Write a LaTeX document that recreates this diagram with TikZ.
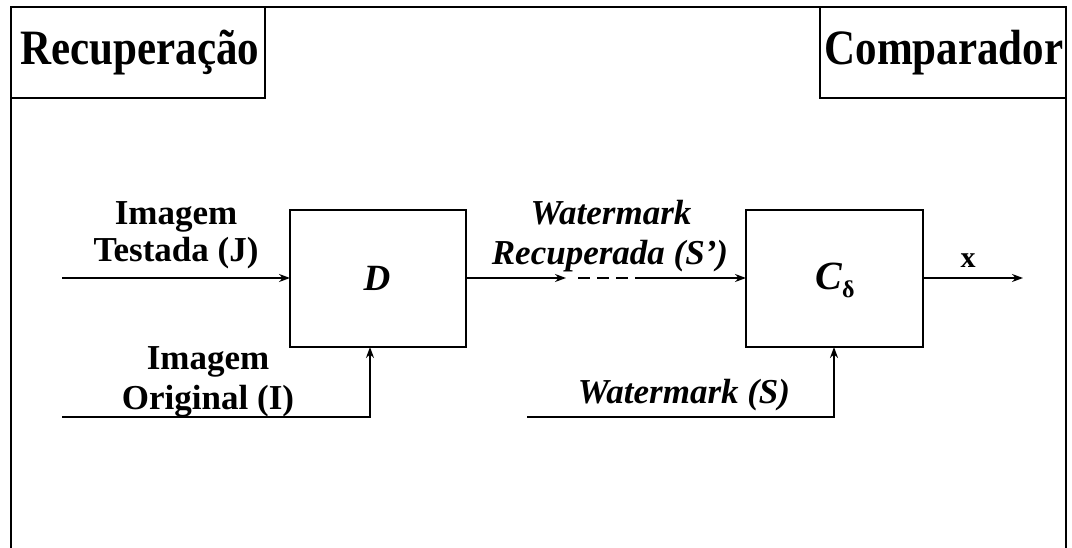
\documentclass[tikz,border=0pt]{standalone}
\usepackage{fontspec}
\setmainfont{Liberation Serif}
\usetikzlibrary{arrows.meta}
\begin{document}
\begin{tikzpicture}[x=1pt,y=-1pt,line width=2.8pt,
  lbl/.style={font=\fontsize{35}{38}\selectfont\bfseries,inner sep=0pt,anchor=base},
  ilbl/.style={font=\fontsize{35}{38}\selectfont\bfseries\itshape,inner sep=0pt,anchor=base},
  head/.style={font=\fontsize{43}{46}\selectfont\bfseries,inner sep=0pt,anchor=base},
  block/.style={draw,rectangle,minimum width=176pt,minimum height=137pt,inner sep=0pt,outer sep=0pt},
  hbox/.style={draw,rectangle,minimum height=91pt,inner sep=0pt,outer sep=0pt},
  sig/.style={-{Stealth[length=11pt,width=8pt]}}]
\useasboundingbox (0,0) rectangle (1072,548);
% outer frame
\draw (11,548) -- (11,7) -- (1066,7) -- (1066,548);
% header boxes
\node[hbox,minimum width=254pt] (recbox) at (138,52.5) {};
\node[hbox,minimum width=246pt] (compbox) at (943,52.5) {};
\node[head] (rec) at (140,65) {\scalebox{1}[1.15]{Recuperação}};
\node[head] (comp) at (944,65) {\scalebox{1}[1.15]{Comparador}};
% blocks
\node[block] (D) at (378,278.5) {};
\node[block,minimum width=177pt] (C) at (834.5,278.5) {};
\node[inner sep=0pt,anchor=base,font=\fontsize{37}{40}\selectfont\bfseries\itshape] (Dl) at (377,291) {D};
\node[inner sep=0pt,anchor=base,font=\fontsize{40}{42}\selectfont\bfseries\itshape] (Cl) at (835,290) {C\raisebox{-8pt}{\fontsize{24}{26}\selectfont\upshape δ}};
% labels
\node[lbl] (img1) at (176,225) {Imagem};
\node[lbl] (tst) at (176,262) {Testada (J)};
\node[lbl] (img2) at (208,370) {Imagem};
\node[lbl] (orig) at (208,409) {Original (I)};
\node[ilbl] (wm1) at (611,225) {Watermark};
\node[ilbl] (rec2) at (610,265) {Recuperada (S’)};
\node[ilbl] (wms) at (684,403) {Watermark (S)};
\node[inner sep=0pt,anchor=base,font=\fontsize{30}{32}\selectfont\bfseries] (xl) at (968,268) {x};
% connectors
\coordinate (jin) at (62,278);
\draw[sig] (jin) -- (jin -| D.west);
\coordinate (iin) at (62,417);
\coordinate (icorner) at (370,417);
\draw[sig] (iin) -- (icorner) -- (icorner |- D.south);
\coordinate (m1) at (566,278);
\coordinate (m2) at (578,278);
\coordinate (m3) at (640,278);
\draw[sig] (D.east |- jin) -- (m1);
\draw[dash pattern=on 12pt off 7pt] (m2) -- (m3);
\draw[sig] (m3) -- (m3 -| C.west);
\coordinate (sin) at (527,417);
\coordinate (scorner) at (834,417);
\draw[sig] (sin) -- (scorner) -- (scorner |- C.south);
\coordinate (xout) at (1023,278);
\draw[sig] (C.east |- jin) -- (xout);
\end{tikzpicture}
\end{document}
